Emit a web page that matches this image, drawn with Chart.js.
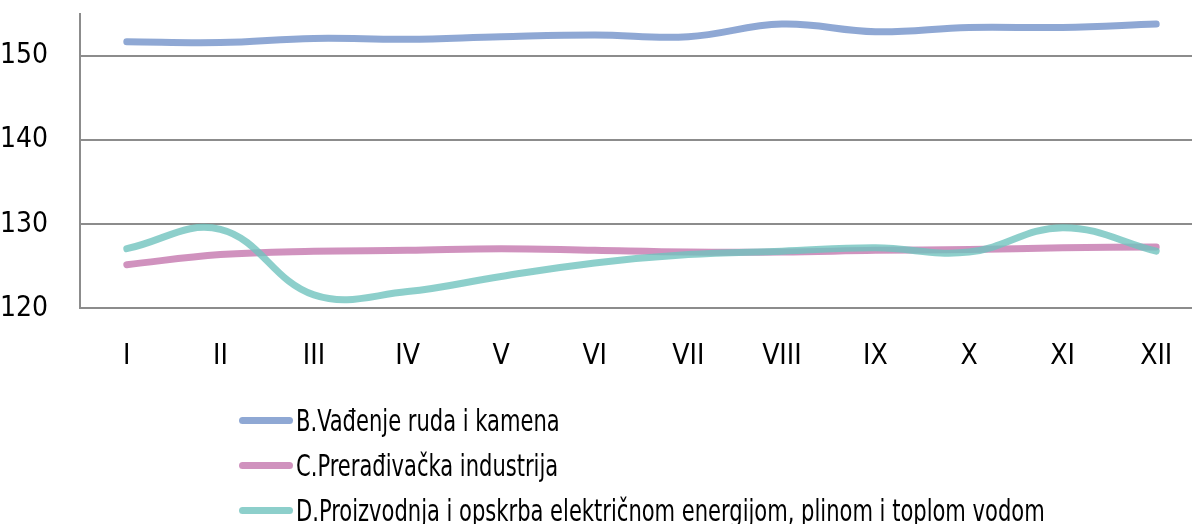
<!DOCTYPE html>
<html>
<head>
<meta charset="utf-8">
<script src="https://cdn.jsdelivr.net/npm/chart.js@4.4.1/dist/chart.umd.min.js"></script>
<style>
    body { margin: 0; background: #fff; overflow: hidden; }
    #wrap { position: relative; width: 1203px; height: 524px; }
    #myChart { position: absolute; left: 0; top: 0; }
    #legend {
        position: absolute; left: 239px; top: 398px;
        font-family: "DejaVu Sans Condensed", "Liberation Sans Narrow", sans-serif;
        font-size: 30px; color: #000;
    }
    .legend__item { height: 45px; line-height: 45px; white-space: nowrap; display: flex; align-items: center; }
    .legend__line { display: inline-block; width: 54px; height: 7px; border-radius: 4px; margin-right: 3px; flex: none; }
    .legend__text { display: inline-block; transform: scaleX(0.78); transform-origin: left center; }
</style>
</head>
<body>
<div id="wrap">
    <canvas id="myChart" width="1203" height="409"></canvas>
    <div id="legend"></div>
</div>
<script>
let months = ['I', 'II', 'III', 'IV', 'V', 'VI', 'VII', 'VIII', 'IX', 'X', 'XI', 'XII'];
let yTicks = [120, 130, 140, 150];

let vadenje = [151.7, 151.6, 152.1, 152.0, 152.3, 152.5, 152.3, 153.8, 152.9, 153.4, 153.4, 153.8];
let preradjivacka = [125.2, 126.4, 126.8, 126.9, 127.1, 126.9, 126.7, 126.7, 126.9, 127.0, 127.2, 127.3];
let energija = [127.1, 129.4, 121.6, 122.0, 123.8, 125.4, 126.4, 126.8, 127.2, 126.7, 129.6, 126.8];

let font = '"DejaVu Sans Condensed", "Liberation Sans Narrow", sans-serif';
let gridColor = '#8c8c8c';

function line(label, data, color, order) {
    return {
        label: label,
        data: data,
        borderColor: color,
        backgroundColor: color,
        borderWidth: 7,
        borderCapStyle: 'round',
        borderJoinStyle: 'round',
        pointRadius: 0,
        tension: 0.4,
        fill: false,
        order: order
    };
}

let ctx = document.getElementById('myChart').getContext('2d');
let myChart = new Chart(ctx, {
    type: 'line',
    data: {
        labels: months,
        datasets: [
            line('B.Vađenje ruda i kamena', vadenje, 'rgba(115, 146, 201, 0.8)', 2),
            line('C.Prerađivačka industrija', preradjivacka, 'rgba(196, 119, 174, 0.8)', 1),
            line('D.Proizvodnja i opskrba električnom energijom, plinom i toplom vodom', energija, 'rgba(113, 195, 190, 0.8)', 0)
        ]
    },
    options: {
        responsive: false,
        animation: false,
        devicePixelRatio: 1,
        layout: { padding: { top: 14, left: 0, right: 0, bottom: 11 } },
        plugins: {
            legend: { display: false },
            tooltip: { enabled: false }
        },
        scales: {
            x: {
                offset: true,
                afterFit: (scale) => {
                    scale.paddingLeft = 0;
                    scale.paddingRight = 0;
                },
                grid: { display: false },
                border: { display: true, color: gridColor, width: 2 },
                ticks: {
                    color: '#000',
                    font: { family: font, size: 28 },
                    padding: 24,
                    maxRotation: 0,
                    autoSkip: false
                }
            },
            y: {
                min: 120,
                max: 155,
                afterFit: (scale) => {
                    scale.width = 80;
                    scale.paddingTop = 0;
                    scale.paddingBottom = 0;
                },
                afterBuildTicks: (scale) => {
                    scale.ticks = yTicks.map(v => ({ value: v }));
                },
                grid: { color: gridColor, lineWidth: 2, drawTicks: false },
                border: { display: true, color: gridColor, width: 2 },
                ticks: {
                    color: '#000',
                    font: { family: font, size: 28 },
                    padding: 32
                }
            }
        }
    }
});

let legendBlock = document.querySelector('#legend');
myChart.data.datasets.forEach((ds) => {
    let item = document.createElement('div');
    item.classList.add('legend__item');
    let sample = document.createElement('span');
    sample.classList.add('legend__line');
    sample.style.background = ds.borderColor;
    item.append(sample);
    let text = document.createElement('span');
    text.classList.add('legend__text');
    text.innerText = ds.label;
    item.append(text);
    legendBlock.append(item);
});
</script>
</body>
</html>
